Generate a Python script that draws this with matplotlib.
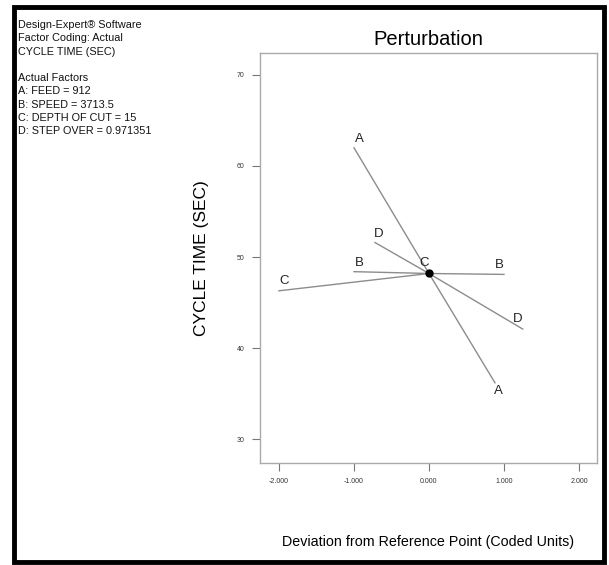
"""
Perturbation plot for CYCLE TIME (SEC), Design-Expert style
"""

#imports
import matplotlib
matplotlib.use("Agg")
import matplotlib.pyplot as plt
from matplotlib.patches import Rectangle

plt.rcParams['font.family'] = ['Liberation Sans', 'DejaVu Sans']

#data
factor_names = ['A', 'B', 'C', 'D']
a_x = [-1.0, 0.0, 0.88]
a_y = [62.0, 48.2, 36.2]
b_x = [-1.0, 0.0, 1.0]
b_y = [48.4, 48.2, 48.1]
c_x = [-2.0, 0.0]
c_y = [46.3, 48.2]
d_x = [-0.72, 0.0, 1.25]
d_y = [51.6, 48.2, 42.1]
ref_x = 0.0
ref_y = 48.2

x_ticks = [-2.0, -1.0, 0.0, 1.0, 2.0]
y_ticks = [30, 40, 50, 60, 70]

info_lines = ["Design-Expert\u00ae Software", "Factor Coding: Actual", "CYCLE TIME (SEC)",
              "", "Actual Factors", "A: FEED = 912", "B: SPEED = 3713.5",
              "C: DEPTH OF CUT = 15", "D: STEP OVER = 0.971351"]

#label offsets in pixels for (start, end) of each factor line
label_offsets = {'A': [(5, 9), (3, -8)], 'B': [(5, 9), (-5, 9)],
                 'C': [(5, 10), (-5, 10)], 'D': [(4, 9), (-5, 10)]}

W, H = 609, 565
fig = plt.figure(figsize=(W / 100, H / 100), dpi=100)
ax = fig.add_axes([260 / W, 1 - 463 / H, (597 - 260) / W, (463 - 53) / H])

line_color = "#8c8c8c"
series = {'A': (a_x, a_y), 'B': (b_x, b_y), 'C': (c_x, c_y), 'D': (d_x, d_y)}
for name in factor_names:
    xs, ys = series[name]
    ax.plot(xs, ys, color=line_color, lw=1.0)
    for (px, py), off in zip([(xs[0], ys[0]), (xs[-1], ys[-1])], label_offsets[name]):
        ax.annotate(name, (px, py), xytext=off, textcoords='offset pixels',
                    ha='center', va='center', fontsize=9.5, color="#222222")

ax.plot([ref_x], [ref_y], 'o', color='black', ms=5)

ax.set_xlim(-2.253, 2.24)
ax.set_ylim(27.4, 72.4)
ax.set_xticks(x_ticks)
ax.set_xticklabels(["%.3f" % v for v in x_ticks])
ax.set_yticks(y_ticks)
ax.tick_params(direction='out', length=6, width=0.8, color="#777777",
               labelsize=5, labelcolor="#333333", pad=5)
for sp in ax.spines.values():
    sp.set_color("#aaaaaa")
    sp.set_linewidth(1.0)

ax.set_title("Perturbation", fontsize=14.5, pad=6)
ax.set_ylabel("CYCLE TIME (SEC)", fontsize=12.5, labelpad=20)
fig.text(428 / W, 1 - 542 / H, "Deviation from Reference Point (Coded Units)",
         ha='center', va='center', fontsize=10.3)

#info block at top left
for i, txt in enumerate(info_lines):
    fig.text(18 / W, 1 - (25 + i * 13.3) / H, txt, ha='left', va='center',
             fontsize=7.8, color="#111111")

#thick outer frame
fig.patches.append(Rectangle((13.5 / W, 3.5 / H), (604 - 13.5) / W, (561.5 - 6.5) / H,
                             transform=fig.transFigure, fill=False,
                             edgecolor='black', lw=3.5))

fig.savefig("out.png", dpi=100)
